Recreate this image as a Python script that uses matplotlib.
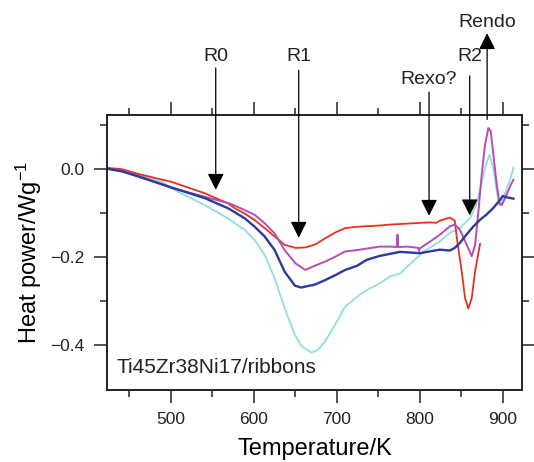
import matplotlib
matplotlib.use("Agg")
import matplotlib.pyplot as plt
from matplotlib.ticker import FixedLocator

plt.rcParams["font.family"] = ["Liberation Sans", "DejaVu Sans"]
plt.rcParams["mathtext.fontset"] = "custom"
plt.rcParams["mathtext.rm"] = "Liberation Sans"
plt.rcParams["mathtext.default"] = "regular"

# ---- data (T in K, heat power in W/g) ----
red_T = [423, 441, 461, 501, 541, 569, 577, 589, 601, 613, 625, 637, 650, 662, 674, 686,
         698, 710, 724, 752, 764, 792, 812, 820, 824, 836, 842, 845, 850.4, 854.4, 858.4,
         862.5, 866.5, 872.5]
red_v = [0.002, -0.001, -0.012, -0.030, -0.056, -0.079, -0.090, -0.102, -0.117, -0.135,
         -0.154, -0.173, -0.180, -0.179, -0.172, -0.158, -0.145, -0.135, -0.132, -0.129,
         -0.127, -0.124, -0.122, -0.123, -0.118, -0.111, -0.118, -0.165, -0.233, -0.294,
         -0.318, -0.294, -0.233, -0.171]

mag_T = [423, 441, 461, 501, 541, 569, 577, 589, 601, 613, 625, 637, 650, 662, 674, 686,
         698, 710, 724, 752, 764, 772, 773, 774, 785, 798, 799, 800, 812, 824, 836, 842,
         848, 856.4, 862.5, 866.5, 870.5, 874.5, 878.5, 882.5, 885.4, 888.5, 892.6, 895.8,
         898.6, 902.7, 908.7, 912.7]
mag_v = [0.0, -0.004, -0.016, -0.043, -0.064, -0.078, -0.084, -0.094, -0.105, -0.124,
         -0.147, -0.185, -0.215, -0.230, -0.220, -0.211, -0.200, -0.188, -0.185, -0.177,
         -0.177, -0.178, -0.150, -0.178, -0.177, -0.180, -0.187, -0.181, -0.166, -0.150,
         -0.131, -0.127, -0.138, -0.173, -0.199, -0.173, -0.097, -0.013, 0.055, 0.0925,
         0.085, 0.032, -0.036, -0.078, -0.083, -0.067, -0.040, -0.025]

blue_T = [423, 441, 461, 501, 541, 569, 577, 589, 601, 613, 625, 637, 649.5, 657, 674,
          686, 698, 710, 724, 736, 752, 776, 800, 824, 836, 842, 848, 856, 864.5, 872.5,
          880.4, 888.5, 896.6, 899.9, 904.7, 912.7]
blue_v = [0.0, -0.006, -0.018, -0.043, -0.067, -0.090, -0.099, -0.113, -0.132, -0.154,
          -0.185, -0.234, -0.266, -0.270, -0.263, -0.253, -0.242, -0.230, -0.221, -0.207,
          -0.198, -0.189, -0.192, -0.184, -0.186, -0.180, -0.169, -0.150, -0.131, -0.116,
          -0.104, -0.089, -0.071, -0.062, -0.065, -0.068]

cyan_T = [423, 441, 461, 490, 501, 541, 569, 577, 589, 601, 613, 625, 637, 649.5, 657.6,
          669.6, 677, 685.6, 697.7, 709.7, 731.8, 752, 764, 776, 804, 824, 836, 848, 860.5,
          866.5, 872.5, 878.5, 883.7, 888.5, 892.6, 895.8, 898.6, 902.7, 908.7, 912.7]
cyan_v = [0.0, -0.003, -0.014, -0.030, -0.045, -0.083, -0.113, -0.124, -0.139, -0.162,
          -0.196, -0.249, -0.317, -0.378, -0.404, -0.418, -0.412, -0.393, -0.355, -0.314,
          -0.280, -0.260, -0.245, -0.238, -0.189, -0.165, -0.146, -0.135, -0.112, -0.089,
          -0.048, 0.002, 0.032, 0.002, -0.052, -0.083, -0.078, -0.055, -0.025, 0.002]

# arrow markers: label, T, tip, tail, text y
mark_labels = ["R0", "R1", "Rexo?", "R2"]
mark_T = [554, 654, 811, 860]
mark_tip = [-0.048, -0.157, -0.107, -0.106]
mark_tail = [0.229, 0.224, 0.174, 0.211]
mark_text_y = [0.254, 0.254, 0.202, 0.254]

endo_T = 881
endo_tail = 0.112
endo_tip = 0.308
endo_text_y = 0.333

fig = plt.figure(figsize=(5.34, 4.62), dpi=100)
ax = fig.add_axes([0.2004, 0.1558, 0.7771, 0.5952])

ax.plot(cyan_T, cyan_v, color="#8fe0da", lw=1.3)
ax.plot(red_T, red_v, color="#e5321f", lw=1.3)
ax.plot(mag_T, mag_v, color="#b84cb6", lw=1.4)
ax.plot(blue_T, blue_v, color="#2b3a9c", lw=1.7)

ax.set_xlim(423, 923)
ax.set_ylim(-0.503, 0.122)

ax.xaxis.set_major_locator(FixedLocator([500, 600, 700, 800, 900]))
ax.xaxis.set_minor_locator(FixedLocator([450, 550, 650, 750, 850]))
ax.yaxis.set_major_locator(FixedLocator([0.0, -0.2, -0.4]))
ax.yaxis.set_minor_locator(FixedLocator([0.1, -0.1, -0.3]))
ax.yaxis.set_major_formatter(plt.FuncFormatter(lambda v, p: f"{v:.1f}".replace("-", "\u2212")))

ax.tick_params(which="both", direction="out", top=True, right=True, width=1.1,
               labelsize=12.5, colors="#222222")
ax.tick_params(which="major", length=9.5)
ax.tick_params(axis="x", which="major", pad=6)
ax.tick_params(axis="y", which="major", pad=7)
ax.tick_params(which="minor", length=5)
for s in ax.spines.values():
    s.set_linewidth(1.4)
    s.set_color("#222222")

ax.set_xlabel("Temperature/K", fontsize=17, labelpad=8)
ax.set_ylabel("Heat power/Wg$^{-1}$", fontsize=17, labelpad=4)

ax.text(0.024, 0.083, "Ti45Zr38Ni17/ribbons", transform=ax.transAxes, fontsize=15,
        ha="left", va="center", color="#222222")

arrow_style = "-|>,head_length=1.0,head_width=0.5"
for lab, t, tip, tail, ty in zip(mark_labels, mark_T, mark_tip, mark_tail, mark_text_y):
    ax.annotate("", xy=(t, tip), xytext=(t, tail), annotation_clip=False,
                arrowprops=dict(arrowstyle=arrow_style, mutation_scale=10, color="black",
                                lw=0.9, shrinkA=0, shrinkB=0))
    ax.text(t, ty, lab, ha="center", va="center", fontsize=14, color="#222222", clip_on=False)

ax.annotate("", xy=(endo_T, endo_tip), xytext=(endo_T, endo_tail), annotation_clip=False,
            arrowprops=dict(arrowstyle=arrow_style, mutation_scale=10, color="black",
                            lw=0.9, shrinkA=0, shrinkB=0))
ax.text(endo_T, endo_text_y, "Rendo", ha="center", va="center", fontsize=14,
        color="#222222", clip_on=False)

fig.savefig("out.png", dpi=100)
